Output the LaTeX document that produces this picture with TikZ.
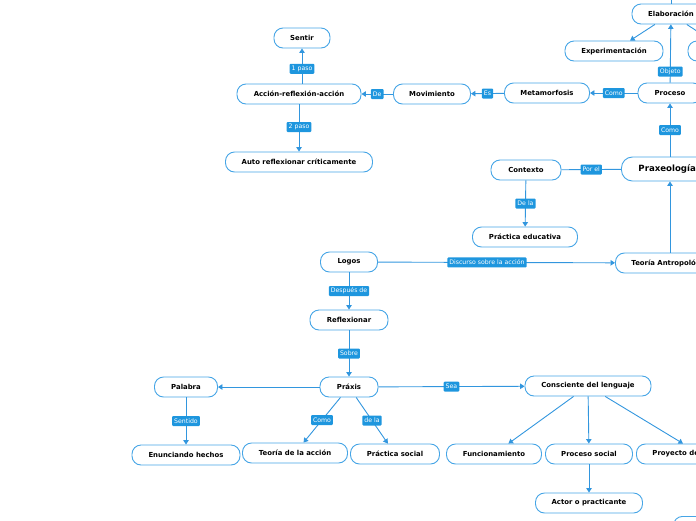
\documentclass[tikz,border=0pt]{standalone}
\usepackage{fontspec}
\setmainfont{DejaVu Sans}
\usetikzlibrary{arrows.meta,calc}
\definecolor{bc}{RGB}{70,165,230}
\definecolor{ec}{RGB}{50,150,222}
\definecolor{lc}{RGB}{30,150,222}
\tikzset{
  box/.style={draw=bc, line width=0.9pt, rounded corners=9pt, fill=white,
    minimum height=20pt, inner xsep=4pt, inner ysep=0pt,
    font=\bfseries\fontsize{6.9}{8}\selectfont, text=black},
  bigbox/.style={box, minimum height=24pt, rounded corners=11pt,
    font=\bfseries\fontsize{8.6}{10}\selectfont},
  lbl/.style={fill=lc, text=white, rounded corners=1pt, inner xsep=2pt, inner ysep=1.5pt,
    minimum height=10pt, font=\fontsize{6.2}{7}\selectfont},
  conn/.style={draw=ec, line width=0.9pt},
  arr/.style={conn, -{Triangle[length=4.5pt,width=5.5pt]}}
}
\begin{document}
\begin{tikzpicture}[x=1pt,y=-1pt]
\useasboundingbox (0,0) rectangle (696,520);
\clip (0,0) rectangle (696,520);
% nodes
\node[box, minimum width=56pt] (sentir) at (302,38) {Sentir};
\node[box, minimum width=124pt] (accion) at (299,94) {Acción-reflexión-acción};
\node[box, minimum width=147pt] (auto) at (299,162) {Auto reflexionar críticamente};
\node[box, minimum width=77pt] (movim) at (432,94) {Movimiento};
\node[box, minimum width=85pt] (metam) at (547,93) {Metamorfosis};
\node[box, minimum width=64pt] (proceso) at (670,93) {Proceso};
\node[box, minimum width=78pt] (elab) at (671,14) {Elaboración};
\node[box, minimum width=98pt] (experim) at (614,51) {Experimentación};
\node[box, minimum width=78pt] (cutnode) at (727,51) {};
\coordinate (elabparent) at (671,-12);
\node[box, minimum width=70pt] (contexto) at (526,170) {Contexto};
\node[bigbox, anchor=west, inner xsep=17pt] (prax) at (621,169) {Praxeología};
\node[box, minimum width=105pt] (practedu) at (525,237) {Práctica educativa};
\node[box, anchor=west, inner xsep=16pt] (teoant) at (615,263) {Teoría Antropológica};
\node[box, minimum width=57pt] (logos) at (349,262) {Logos};
\node[box, minimum width=78pt] (reflex) at (349,320) {Reflexionar};
\node[box, minimum width=58pt] (praxis) at (349,387) {Práxis};
\node[box, minimum width=63pt] (palabra) at (186,387) {Palabra};
\node[box, minimum width=108pt] (enunc) at (186,455) {Enunciando hechos};
\node[box, minimum width=105pt] (teoacc) at (295,453) {Teoría de la acción};
\node[box, minimum width=89pt] (practsoc) at (395,454) {Práctica social};
\node[box, minimum width=126pt] (consc) at (588,386) {Consciente del lenguaje};
\node[box, minimum width=95pt] (func) at (494,454) {Funcionamiento};
\node[box, minimum width=87pt] (procsoc) at (589,454) {Proceso social};
\node[box, anchor=west, inner xsep=16pt] (proyecto) at (636,454) {Proyecto de};
\node[box, minimum width=107pt] (actor) at (589,503) {Actor o practicante};
\node[box, anchor=north west, minimum width=80pt] (bottomnode) at (673,516) {};
% connectors
\draw[arr] (accion.north -| sentir) -- node[lbl, pos=0.42] {1 paso} (sentir);
\draw[arr] (accion) -- node[lbl, pos=0.48] {2 paso} (auto);
\draw[arr] (movim) -- node[lbl] {De} (accion);
\draw[arr] (metam) -- node[lbl] {Es} (movim);
\draw[arr] (proceso) -- node[lbl] {Como} (metam);
\draw[arr] (proceso) -- node[lbl, pos=0.19] {Objeto} (elab);
\draw[conn] (elab.north) -- (elabparent);
\draw[arr] (elab) -- (experim);
\draw[arr] (elab) -- (cutnode);
\draw[arr] (prax.north -| proceso) -- node[lbl] {Como} (proceso);
\draw[conn] (prax) -- node[lbl] {Por el} (contexto);
\draw[arr] (contexto) -- node[lbl] {De la} (practedu);
\draw[arr] (logos) -- node[lbl, pos=0.46] {Discurso sobre la acción} (teoant);
\draw[arr] (teoant.north -| proceso) -- (prax.south -| proceso);
\draw[arr] (logos) -- node[lbl] {Después de} (reflex);
\draw[arr] (reflex) -- node[lbl] {Sobre} (praxis);
\draw[arr] (praxis) -- (palabra);
\draw[arr] (palabra) -- node[lbl] {Sentido} (enunc);
\draw[arr] (praxis) -- node[lbl] {Como} (teoacc);
\draw[arr] (praxis) -- node[lbl] {de la} (practsoc);
\draw[arr] (praxis) -- node[lbl] {Sea} (consc);
\draw[arr] (consc) -- (func);
\draw[arr] (consc) -- (procsoc);
\draw[arr] (consc) -- ($(proyecto.north west)+(47,0)$);
\draw[arr] (procsoc) -- (actor);
\end{tikzpicture}
\end{document}
